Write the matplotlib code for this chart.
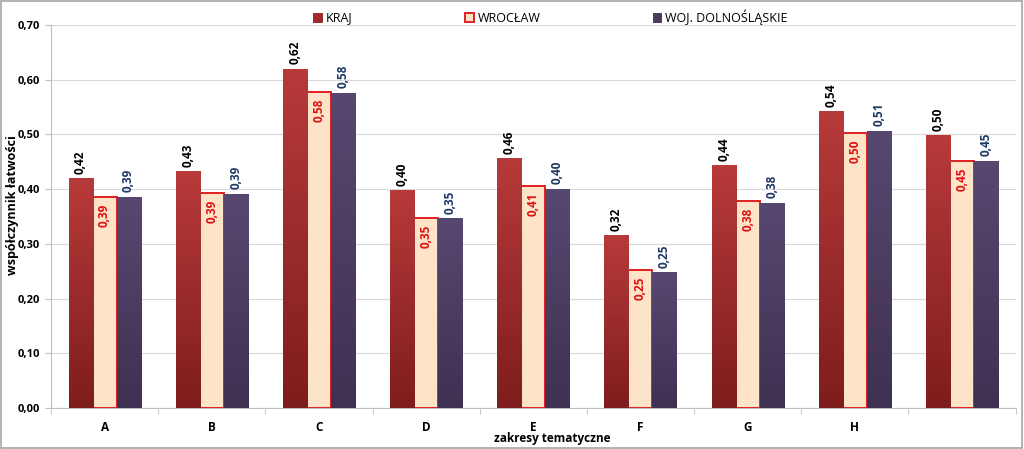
import numpy as np
import matplotlib.pyplot as plt
from matplotlib.patches import Rectangle

plt.rcParams['font.family'] = ['Open Sans', 'DejaVu Sans']

categories = ['A', 'B', 'C', 'D', 'E', 'F', 'G', 'H', '']
kraj = [0.420, 0.433, 0.620, 0.398, 0.457, 0.316, 0.444, 0.543, 0.499]
wroclaw = [0.386, 0.393, 0.578, 0.347, 0.406, 0.252, 0.378, 0.503, 0.452]
woj = [0.386, 0.392, 0.576, 0.347, 0.401, 0.248, 0.375, 0.507, 0.452]
series_names = ['KRAJ', 'WROCŁAW', 'WOJ. DOLNOŚLĄSKIE']


def fmt(v):
    return f'{v:.2f}'.replace('.', ',')


def gradient_bars(ax, bars, top_color, bottom_color):
    """Fill each bar with a vertical gradient clipped to the bar."""
    grad = np.linspace(0, 1, 256).reshape(-1, 1)
    c0 = np.array(plt.matplotlib.colors.to_rgb(bottom_color))
    c1 = np.array(plt.matplotlib.colors.to_rgb(top_color))
    img = c0 + (c1 - c0) * grad[..., None]
    for b in bars:
        x, y = b.get_x(), b.get_y()
        w, h = b.get_width(), b.get_height()
        im = ax.imshow(img, extent=[x, x + w, y, y + h], origin='lower',
                       aspect='auto', zorder=b.get_zorder() + 0.1)
        im.set_clip_path(b)


fig = plt.figure(figsize=(10.24, 4.49), dpi=100)
ax = fig.add_axes([0.0498, 0.0913, 0.942, 0.853])

x = np.arange(len(categories))
w = 0.224

b1 = ax.bar(x - w, kraj, w, color='#a52a2a', edgecolor='#8a1e1e', linewidth=0.6, zorder=3)
b2 = ax.bar(x, wroclaw, w, color='#fde3c8', edgecolor='#e02020', linewidth=1.4, zorder=3)
b3 = ax.bar(x + w, woj, w, color='#4b3b5f', edgecolor='#3a2d4c', linewidth=0.6, zorder=3)
gradient_bars(ax, b1, '#b83a3a', '#7e1d1d')
gradient_bars(ax, b3, '#574870', '#3f3152')

for i in range(len(categories)):
    ax.text(x[i] - w, kraj[i] + 0.008, fmt(kraj[i]), rotation=90, ha='center', va='bottom',
            fontsize=8.5, fontweight='bold', color='black', zorder=5)
    ax.text(x[i], wroclaw[i] - 0.012, fmt(wroclaw[i]), rotation=90, ha='center', va='top',
            fontsize=8.5, fontweight='bold', color='#e01010', zorder=5)
    ax.text(x[i] + w, woj[i] + 0.008, fmt(woj[i]), rotation=90, ha='center', va='bottom',
            fontsize=8.5, fontweight='bold', color='#1f3864', zorder=5)

ax.set_xlim(-0.5, len(categories) - 0.5)
ax.set_ylim(0, 0.70)
ax.set_yticks(np.arange(0, 0.71, 0.10))
ax.set_yticklabels([fmt(v) for v in np.arange(0, 0.71, 0.10)], fontsize=8, fontweight='bold')
ax.set_xticks(x)
ax.set_xticklabels(categories, fontsize=8.5, fontweight='bold')
ax.set_xticks(np.arange(-0.5, len(categories), 1), minor=True)
ax.tick_params(axis='x', which='major', length=0, pad=9)
ax.tick_params(axis='x', which='minor', length=4, color='#bfbfbf')
ax.tick_params(axis='y', length=4, color='#bfbfbf', pad=4)

ax.grid(axis='y', color='#d9d9d9', linewidth=0.8, zorder=0)
for s in ['top', 'right']:
    ax.spines[s].set_visible(False)
ax.spines['left'].set_color('#bfbfbf')
ax.spines['bottom'].set_color('#bfbfbf')

ax.set_ylabel('współczynnik łatwości', fontsize=9, fontweight='bold')
ax.yaxis.set_label_coords(-0.033, 0.53)
ax.set_xlabel('zakresy tematyczne', fontsize=8.5, fontweight='bold')
ax.xaxis.set_label_coords(0.52, -0.062)

fig.legend([b1, b2, b3], series_names, loc='upper center', bbox_to_anchor=(0.5375, 1.005),
           ncol=3, frameon=False, fontsize=9, columnspacing=9, handlelength=0.7,
           handleheight=0.7, handletextpad=0.3)

fig.add_artist(Rectangle((0.001, 0.002), 0.997, 0.995, transform=fig.transFigure,
                         fill=False, edgecolor='#a6a6a6', linewidth=1.2))

fig.savefig('out.png', dpi=100)
